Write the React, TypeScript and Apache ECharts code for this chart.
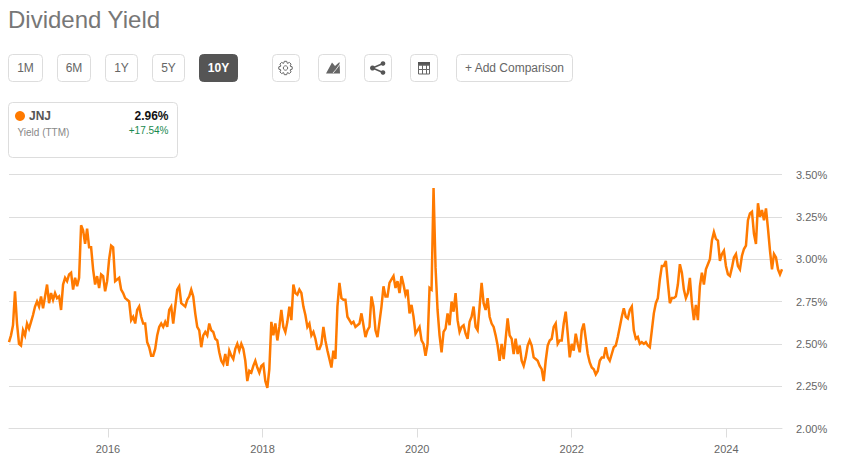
import React, { useEffect, useRef } from "react";
import * as echarts from "echarts";

const startYear = 2014.72;
const yearsPerSample = 2 / 77.2;
const xTickYears = [2016, 2018, 2020, 2022, 2024];
const ranges = ["1M", "6M", "1Y", "5Y", "10Y"];
const ticker = "JNJ";
const metric = "Yield (TTM)";
const lastValue = "2.96%";
const change = "+17.54%";

const yields2014 = [2.51,2.55,2.61,2.81,2.62,2.50,2.49,2.58,2.55,2.62,2.59,2.63,2.67,2.72,2.75,2.72,2.78,2.71,2.78,2.85,2.74,2.80,2.76,2.80,2.77,2.78,2.70,2.85,2.89,2.87,2.91,2.92,2.82,2.89,2.84,2.89];
const yields2015 = [3.20,3.17,3.09,3.18,3.07,3.07,2.94,2.85,2.90,2.83,2.91,2.90,2.81,2.87,3.00,3.08,3.07,2.87,2.88,2.89,2.82,2.80,2.77,2.76,2.75,2.64,2.66,2.62,2.70,2.72,2.66,2.62,2.62,2.51,2.48,2.43,2.43,2.47];
const yields2016 = [2.55,2.60,2.62,2.60,2.63,2.60,2.70,2.72,2.62,2.72,2.82,2.84,2.74,2.73,2.72,2.76,2.78,2.82,2.78,2.68,2.60,2.58,2.48,2.55,2.57,2.55,2.62,2.58,2.57,2.53,2.52,2.45,2.40,2.38,2.44,2.37,2.46,2.43,2.41];
const yields2017 = [2.47,2.50,2.46,2.50,2.47,2.40,2.28,2.34,2.33,2.37,2.40,2.36,2.33,2.37,2.38,2.28,2.24,2.35,2.63,2.55,2.62,2.52,2.60,2.70,2.60,2.57,2.63,2.72,2.64,2.85,2.80,2.79,2.82,2.80,2.72,2.67,2.60,2.62];
const yields2018 = [2.55,2.57,2.53,2.47,2.47,2.50,2.60,2.52,2.46,2.41,2.36,2.46,2.41,2.72,2.86,2.77,2.76,2.76,2.66,2.64,2.62,2.63,2.60,2.61,2.62,2.68,2.61,2.54,2.58,2.60,2.78,2.72,2.58,2.54,2.63,2.72,2.84,2.78,2.78];
const yields2019 = [2.86,2.88,2.90,2.83,2.87,2.80,2.90,2.85,2.79,2.82,2.68,2.73,2.66,2.56,2.58,2.60,2.52,2.50,2.43,2.50,2.83,2.82,3.42,2.95,2.70,2.55,2.45,2.57,2.59,2.68,2.61,2.75,2.69,2.80,2.64,2.57,2.60,2.61];
const yields2021 = [2.56,2.53,2.63,2.66,2.72,2.60,2.58,2.72,2.86,2.74,2.70,2.77,2.66,2.62,2.60,2.55,2.49,2.40,2.50,2.41,2.53,2.65,2.55,2.53,2.44,2.53,2.44,2.49,2.40,2.37,2.42,2.49,2.52,2.49,2.42,2.41,2.40,2.37,2.35];
const yields2022 = [2.28,2.40,2.49,2.52,2.53,2.60,2.62,2.50,2.52,2.52,2.62,2.69,2.56,2.42,2.50,2.46,2.56,2.50,2.45,2.58,2.62,2.53,2.44,2.39,2.36,2.35,2.32,2.34,2.40,2.42,2.42,2.48,2.42,2.40,2.44,2.48,2.49,2.54,2.60];
const yields2023 = [2.66,2.71,2.66,2.65,2.70,2.72,2.58,2.53,2.54,2.50,2.51,2.50,2.51,2.49,2.48,2.58,2.68,2.74,2.77,2.88,2.96,2.96,2.99,2.86,2.74,2.77,2.77,2.78,2.85,2.97,2.92,2.82,2.77,2.80,2.89,2.74,2.64,2.73,2.64];
const yields2024 = [2.84,2.92,2.85,2.94,2.97,3.00,3.11,3.16,3.12,3.11,2.99,3.03,3.05,2.96,2.91,2.90,2.95,3.01,3.03,2.96,2.94,3.02,3.06,3.08,3.23,3.27,3.28,3.15,3.09,3.33,3.25,3.29,3.23,3.30,3.18,3.05,2.94,3.03,3.01,2.94,2.91,2.94];

const allYields = [...yields2014, ...yields2015, ...yields2016, ...yields2017, ...yields2018, ...yields2019, ...yields2021, ...yields2022, ...yields2023, ...yields2024];

const ORANGE = "#ff7a00";
const BORDER = "#dddddd";
const FONT = "Liberation Sans, Arial, sans-serif";

const gearPath = (() => {
  const pts: string[] = [];
  const n = 8;
  for (let i = 0; i < n; i++) {
    const a = (i / n) * Math.PI * 2;
    const w = Math.PI / n;
    const p = (r: number, t: number) => `${(r * Math.cos(t)).toFixed(2)} ${(r * Math.sin(t)).toFixed(2)}`;
    pts.push(`${i === 0 ? "M" : "L"}${p(5, a - w * 0.95)}`, `L${p(6.8, a - w * 0.45)}`, `L${p(6.8, a + w * 0.45)}`, `L${p(5, a + w * 0.95)}`);
  }
  return pts.join(" ") + " Z";
})();
echarts.graphic.registerShape("gearOutline", echarts.graphic.extendPath(gearPath as any, {}) as any);

function button(x: number, w: number, label?: string, active = false): any[] {
  const out: any[] = [
    { type: "rect", shape: { x: x + 0.5, y: 54.5, width: w - 1, height: 27, r: 4 }, style: { fill: active ? "#555555" : "#ffffff", stroke: active ? "#555555" : BORDER, lineWidth: 1 } },
  ];
  if (label) {
    out.push({ type: "text", x: x + w / 2, y: 68, style: { text: label, fill: active ? "#ffffff" : "#666666", font: `${active ? "bold " : ""}12px ${FONT}`, textAlign: "center", textVerticalAlign: "middle" } });
  }
  return out;
}

const iconColor = "#666666";
const graphics: any[] = [
  { type: "text", x: 8, y: 19, style: { text: "Dividend Yield", fill: "#777777", font: `24px ${FONT}`, textAlign: "left", textVerticalAlign: "middle" } },
  ...button(8, 35, ranges[0]),
  ...button(57, 34, ranges[1]),
  ...button(105, 33, ranges[2]),
  ...button(152, 33, ranges[3]),
  ...button(199, 39, ranges[4], true),
  ...button(272, 28),
  ...button(318, 28),
  ...button(364, 28),
  ...button(410, 28),
  ...button(456, 117, "+ Add Comparison"),
  { type: "gearOutline", x: 285.5, y: 68, style: { fill: "none", stroke: iconColor, lineWidth: 1 } },
  { type: "circle", shape: { cx: 285.5, cy: 68, r: 2.2 }, style: { fill: "none", stroke: iconColor, lineWidth: 1 } },
  { type: "polygon", shape: { points: [[326, 73.5], [332, 62.5], [335, 66], [339.5, 62], [340, 73.5]] }, style: { fill: iconColor } },
  { type: "polyline", shape: { points: [[333, 73], [336, 69.5], [340, 64]] }, style: { fill: "none", stroke: "#ffffff", lineWidth: 0.8 } },
  { type: "line", shape: { x1: 372.5, y1: 68, x2: 383, y2: 63.5 }, style: { stroke: "#555555", lineWidth: 1.5 } },
  { type: "line", shape: { x1: 372.5, y1: 68, x2: 383, y2: 72.5 }, style: { stroke: "#555555", lineWidth: 1.5 } },
  { type: "circle", shape: { cx: 372.5, cy: 68, r: 2.5 }, style: { fill: "#555555" } },
  { type: "circle", shape: { cx: 383, cy: 63.5, r: 2.3 }, style: { fill: "#555555" } },
  { type: "circle", shape: { cx: 383, cy: 72.5, r: 2.3 }, style: { fill: "#555555" } },
  { type: "rect", shape: { x: 418, y: 62, width: 12, height: 3.5 }, style: { fill: "#555555" } },
  { type: "rect", shape: { x: 418.5, y: 65, width: 11, height: 9 }, style: { fill: "none", stroke: iconColor, lineWidth: 1 } },
  { type: "line", shape: { x1: 418.5, y1: 69.5, x2: 429.5, y2: 69.5 }, style: { stroke: iconColor, lineWidth: 1 } },
  { type: "line", shape: { x1: 422.5, y1: 65, x2: 422.5, y2: 74 }, style: { stroke: iconColor, lineWidth: 1 } },
  { type: "line", shape: { x1: 426.5, y1: 65, x2: 426.5, y2: 74 }, style: { stroke: iconColor, lineWidth: 1 } },
  { type: "rect", shape: { x: 8.5, y: 102.5, width: 169, height: 55, r: 4 }, style: { fill: "#ffffff", stroke: BORDER, lineWidth: 1 } },
  { type: "circle", shape: { cx: 20, cy: 116, r: 5 }, style: { fill: ORANGE } },
  { type: "text", x: 29, y: 116, style: { text: ticker, fill: "#555555", font: `bold 12px ${FONT}`, textAlign: "left", textVerticalAlign: "middle" } },
  { type: "text", x: 168.5, y: 116, style: { text: lastValue, fill: "#111111", font: `bold 12px ${FONT}`, textAlign: "right", textVerticalAlign: "middle" } },
  { type: "text", x: 17.5, y: 132.5, style: { text: metric, fill: "#888888", font: `10px ${FONT}`, textAlign: "left", textVerticalAlign: "middle" } },
  { type: "text", x: 168.5, y: 130.5, style: { text: change, fill: "#1a8a4f", font: `10px ${FONT}`, textAlign: "right", textVerticalAlign: "middle" } },
];

export default function App() {
  const ref = useRef<HTMLDivElement>(null);
  useEffect(() => {
    const chart = echarts.init(ref.current!, undefined, { renderer: "svg" });
    chart.setOption({
      animation: false,
      backgroundColor: "#ffffff",
      grid: { left: 9, right: 78, top: 174.5, bottom: 33.5, containLabel: false },
      xAxis: {
        type: "value",
        min: startYear,
        max: startYear + (allYields.length - 1) * yearsPerSample,
        splitLine: { show: false },
        axisLine: { show: true, lineStyle: { color: BORDER, width: 1 } },
        axisTick: { show: true, length: 9, lineStyle: { color: BORDER }, customValues: xTickYears },
        axisLabel: { color: "#666666", fontSize: 11, fontFamily: FONT, margin: 15, customValues: xTickYears, formatter: (v: number) => String(Math.round(v)) },
      },
      yAxis: {
        type: "value",
        position: "right",
        min: 2,
        max: 3.5,
        interval: 0.25,
        axisLine: { show: false },
        axisTick: { show: false },
        splitLine: { show: true, lineStyle: { color: BORDER, width: 1 } },
        axisLabel: { color: "#666666", fontSize: 11, fontFamily: FONT, margin: 14, padding: [4, 0, 0, 0], formatter: (v: number) => v.toFixed(2) + "%" },
      },
      graphic: graphics,
      series: [
        {
          type: "line",
          data: allYields.map((v, i) => [startYear + i * yearsPerSample, v]),
          showSymbol: false,
          symbol: "none",
          smooth: false,
          clip: false,
          lineStyle: { color: ORANGE, width: 2.5, join: "miter" },
        },
      ],
    });
    return () => chart.dispose();
  }, []);
  return <div ref={ref} style={{ position: "fixed", left: 0, top: 0, width: 860, height: 462 }} />;
}
